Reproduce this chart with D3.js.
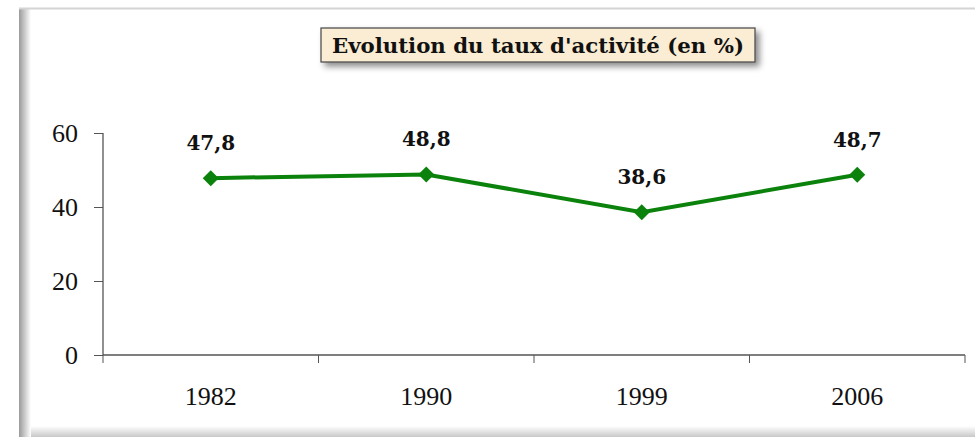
<!DOCTYPE html>
<html>
<head>
<meta charset="utf-8">
<script src="https://cdn.jsdelivr.net/npm/d3@7"></script>
<style>
  body { margin: 0; background: #fff; }
  svg { display: block; }
</style>
</head>
<body>
<div id="root"></div>
<script>
// data
const years = ["1982", "1990", "1999", "2006"];
const rates = [47.8, 48.8, 38.6, 48.7];
const yTicks = [0, 20, 40, 60];
const title = "Evolution du taux d'activité (en %)";

const width = 975;
const height = 437;
const serif = "'Liberation Serif', 'DejaVu Serif', serif";
const boldSerif = "'DejaVu Serif', serif";

const svg = d3.select("#root")
  .append("svg")
  .attr("width", width)
  .attr("height", height);

const defs = svg.append("defs");

// soft shadow for the frame edges
const leftGrad = defs.append("linearGradient").attr("id", "leftShade")
  .attr("x1", "0%").attr("x2", "100%");
leftGrad.append("stop").attr("offset", "0%").attr("stop-color", "#9a9a9a");
leftGrad.append("stop").attr("offset", "100%").attr("stop-color", "#ffffff");

const bottomGrad = defs.append("linearGradient").attr("id", "bottomShade")
  .attr("x1", "0%").attr("x2", "0%").attr("y1", "0%").attr("y2", "100%");
bottomGrad.append("stop").attr("offset", "0%").attr("stop-color", "#ffffff");
bottomGrad.append("stop").attr("offset", "100%").attr("stop-color", "#c8c8c8");

const shadow = defs.append("filter").attr("id", "titleShadow")
  .attr("x", "-10%").attr("y", "-30%").attr("width", "130%").attr("height", "180%");
shadow.append("feDropShadow")
  .attr("dx", 4).attr("dy", 4).attr("stdDeviation", 3)
  .attr("flood-color", "#000").attr("flood-opacity", 0.45);

// frame
svg.append("rect")
  .attr("x", 19).attr("y", 426)
  .attr("width", width - 19).attr("height", 11)
  .attr("fill", "url(#bottomShade)");
svg.append("rect")
  .attr("x", 19).attr("y", 8)
  .attr("width", 12).attr("height", height - 8)
  .attr("fill", "url(#leftShade)");
svg.append("line")
  .attr("x1", 19).attr("x2", width)
  .attr("y1", 8.5).attr("y2", 8.5)
  .attr("stroke", "#d4d4d4").attr("stroke-width", 2);

// scales
const x = d3.scaleBand()
  .domain(years)
  .range([103, 965]);

const y = d3.scaleLinear()
  .domain([0, 60])
  .range([355, 133]);

// y axis
const yAxis = d3.axisLeft(y)
  .tickValues(yTicks)
  .tickSize(9)
  .tickPadding(16);

const gy = svg.append("g")
  .attr("transform", "translate(103,0)")
  .call(yAxis);

// x axis with ticks on band boundaries
const gx = svg.append("g")
  .attr("transform", "translate(0,355)")
  .call(d3.axisBottom(x).tickSize(0).tickPadding(32));

gx.selectAll(".boundary")
  .data(years.concat(["end"]))
  .enter()
  .append("line")
  .attr("class", "boundary")
  .attr("x1", (d, i) => x.range()[0] + i * x.step())
  .attr("x2", (d, i) => x.range()[0] + i * x.step())
  .attr("y1", 0)
  .attr("y2", 8)
  .attr("stroke", "#555");

[gx, gy].forEach(function(g){
  g.attr("font-family", serif).attr("font-size", 26);
  g.select(".domain").attr("stroke", "#555").attr("stroke-width", 1.3);
  g.selectAll(".tick line").attr("stroke", "#555");
  g.selectAll("text").attr("fill", "#111");
});
gy.select(".domain").attr("d", "M0,133V355");
gx.select(".domain").attr("d", "M103,0H965");

// line
const line = d3.line()
  .x((d, i) => x(years[i]) + x.bandwidth() / 2)
  .y(d => y(d));

svg.append("path")
  .datum(rates)
  .attr("d", line)
  .attr("fill", "none")
  .attr("stroke", "#0b820b")
  .attr("stroke-width", 4);

// diamond markers
svg.selectAll(".marker")
  .data(rates)
  .enter()
  .append("path")
  .attr("class", "marker")
  .attr("d", "M0,-8L8,0L0,8L-8,0Z")
  .attr("transform", (d, i) => "translate(" + (x(years[i]) + x.bandwidth() / 2) + "," + y(d) + ")")
  .attr("fill", "#0b820b");

// value labels
svg.selectAll(".value")
  .data(rates)
  .enter()
  .append("text")
  .attr("class", "value")
  .attr("x", (d, i) => x(years[i]) + x.bandwidth() / 2)
  .attr("y", d => y(d) - 28)
  .attr("text-anchor", "middle")
  .style("font-family", boldSerif)
  .style("font-weight", "bold")
  .style("font-size", "20px")
  .attr("fill", "#111")
  .text(d => d.toFixed(1).replace(".", ","));

// title box
svg.append("rect")
  .attr("x", 321).attr("y", 28)
  .attr("width", 434).attr("height", 34)
  .attr("fill", "#fbedd3")
  .attr("stroke", "#444")
  .attr("stroke-width", 1.2)
  .attr("filter", "url(#titleShadow)");

svg.append("text")
  .attr("x", 538)
  .attr("y", 52.5)
  .attr("text-anchor", "middle")
  .attr("textLength", 412)
  .attr("lengthAdjust", "spacingAndGlyphs")
  .style("font-family", boldSerif)
  .style("font-weight", "bold")
  .style("font-size", "20px")
  .attr("fill", "#111")
  .text(title);
</script>
</body>
</html>
